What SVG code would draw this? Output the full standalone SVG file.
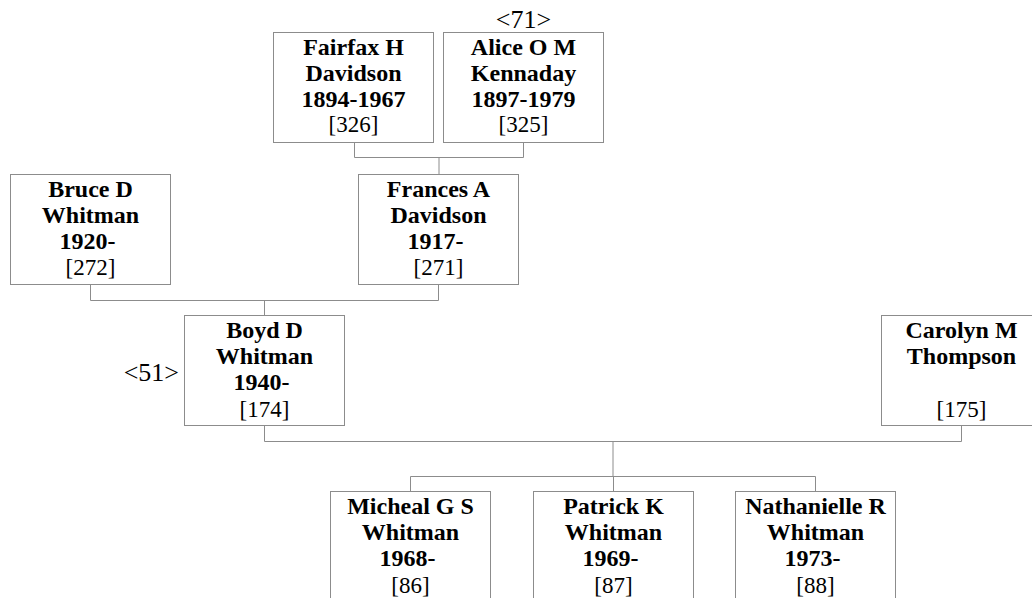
<svg xmlns="http://www.w3.org/2000/svg" width="1032" height="598" viewBox="0 0 1032 598">
<style>
.box{fill:#fff;stroke:#8c8c8c;stroke-width:1}
.ln{fill:none;stroke:#8c8c8c;stroke-width:1}
.n{font-family:"Liberation Serif","Times New Roman",serif;font-weight:bold;font-size:24px;text-anchor:middle;fill:#000}
.id{font-family:"Liberation Serif","Times New Roman",serif;font-size:23px;text-anchor:middle;fill:#000}
.lb{font-family:"Liberation Serif","Times New Roman",serif;font-size:26px;fill:#000}
</style>
<rect width="1032" height="598" fill="#fff"/>
<g id="connectors">
<path class="ln" d="M354.5 142.5V157.5H523.5V142.5M439 157.5V174.5"/>
<path class="ln" d="M90.5 284.5V300.5H438.5V284.5M264.5 300.5V315.5"/>
<path class="ln" d="M264.5 425.5V441.5H961.5V425.5M613 441.5V476.5"/>
<path class="ln" d="M410.5 491.5V476.5H815.5V491.5M613.5 476.5V491.5"/>
</g>
<g id="fairfax">
<rect class="box" x="273.5" y="32.5" width="160" height="110"/>
<text class="n" x="353.5" y="54.5">Fairfax H</text>
<text class="n" x="353.5" y="80.5">Davidson</text>
<text class="n" x="353.5" y="106.5">1894-1967</text>
<text class="id" x="353.5" y="132">[326]</text>
</g>
<g id="alice">
<rect class="box" x="443.5" y="32.5" width="160" height="110"/>
<text class="lb" x="523.5" y="27.5" text-anchor="middle">&lt;71&gt;</text>
<text class="n" x="523.5" y="54.5">Alice O M</text>
<text class="n" x="523.5" y="80.5">Kennaday</text>
<text class="n" x="523.5" y="106.5">1897-1979</text>
<text class="id" x="523.5" y="132">[325]</text>
</g>
<g id="bruce">
<rect class="box" x="10.5" y="174.5" width="160" height="110"/>
<text class="n" x="90.5" y="197">Bruce D</text>
<text class="n" x="90.5" y="223">Whitman</text>
<text class="n" x="87.5" y="249">1920-</text>
<text class="id" x="90.5" y="275">[272]</text>
</g>
<g id="frances">
<rect class="box" x="358.5" y="174.5" width="160" height="110"/>
<text class="n" x="438.5" y="197">Frances A</text>
<text class="n" x="438.5" y="223">Davidson</text>
<text class="n" x="435.5" y="249">1917-</text>
<text class="id" x="438.5" y="275">[271]</text>
</g>
<g id="boyd">
<rect class="box" x="184.5" y="315.5" width="160" height="110"/>
<text class="lb" x="179" y="381" text-anchor="end">&lt;51&gt;</text>
<text class="n" x="264.5" y="337.5">Boyd D</text>
<text class="n" x="264.5" y="363.5">Whitman</text>
<text class="n" x="261.5" y="390">1940-</text>
<text class="id" x="264.5" y="416.5">[174]</text>
</g>
<g id="carolyn">
<rect class="box" x="881.5" y="315.5" width="160" height="110"/>
<text class="n" x="961.5" y="337.5">Carolyn M</text>
<text class="n" x="961.5" y="363.5">Thompson</text>
<text class="id" x="961.5" y="416.5">[175]</text>
</g>
<g id="micheal">
<rect class="box" x="330.5" y="491.5" width="160" height="110"/>
<text class="n" x="410.5" y="513.5">Micheal G S</text>
<text class="n" x="410.5" y="539.5">Whitman</text>
<text class="n" x="407.5" y="566">1968-</text>
<text class="id" x="410.5" y="592.5">[86]</text>
</g>
<g id="patrick">
<rect class="box" x="533.5" y="491.5" width="160" height="110"/>
<text class="n" x="613.5" y="513.5">Patrick K</text>
<text class="n" x="613.5" y="539.5">Whitman</text>
<text class="n" x="610.5" y="566">1969-</text>
<text class="id" x="613.5" y="592.5">[87]</text>
</g>
<g id="nathanielle">
<rect class="box" x="735.5" y="491.5" width="160" height="110"/>
<text class="n" x="815.5" y="513.5">Nathanielle R</text>
<text class="n" x="815.5" y="539.5">Whitman</text>
<text class="n" x="812.5" y="566">1973-</text>
<text class="id" x="815.5" y="592.5">[88]</text>
</g>
</svg>
